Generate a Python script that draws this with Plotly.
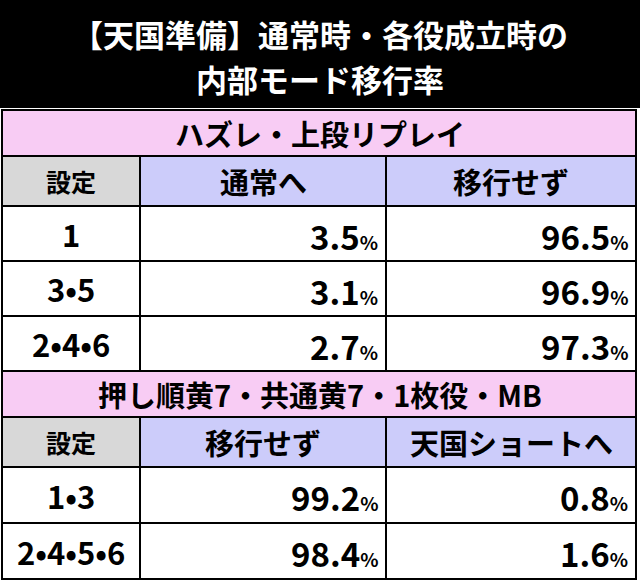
import plotly.graph_objects as go

title_lines = ["【天国準備】通常時・各役成立時の", "内部モード移行率"]

sec1_title = "ハズレ・上段リプレイ"
sec1_cols = ["設定", "通常へ", "移行せず"]
sec1_settings = ["1", "3•5", "2•4•6"]
sec1_normal = [3.5, 3.1, 2.7]
sec1_stay = [96.5, 96.9, 97.3]

sec2_title = "押し順黄7・共通黄7・1枚役・MB"
sec2_cols = ["設定", "移行せず", "天国ショートへ"]
sec2_settings = ["1•3", "2•4•5•6"]
sec2_stay = [99.2, 98.4]
sec2_short = [0.8, 1.6]

W, H = 640, 584
FONT = "Noto Sans CJK JP"
PINK = "#f8ccf4"
LAV = "#ccccfa"
GRAY = "#d8d8d8"
col_x = [2, 140, 386, 636]

fig = go.Figure()
shapes = []
annots = []


def rect(x0, y0, x1, y1, fill):
    shapes.append(dict(type="rect", x0=x0, x1=x1, y0=y0, y1=y1, fillcolor=fill,
                       line=dict(color="black", width=2), layer="below"))


def text(x, y, s, size=30, anchor="center", color="black"):
    annots.append(dict(x=x, y=y, text=s, showarrow=False, xanchor=anchor, yanchor="middle",
                       font=dict(family=FONT, size=size, color=color)))


def pct(v):
    return f"<b>{v:.1f}</b><span style='font-size:19px'><b>%</b></span>"


# title
shapes.append(dict(type="rect", x0=0, x1=W, y0=0, y1=108, fillcolor="black", line_width=0, layer="below"))
text(W / 2, 33, "<b>" + title_lines[0] + "</b>", 31, color="white")
text(W / 2, 78, "<b>" + title_lines[1] + "</b>", 31, color="white")


def section(y, title, cols, settings, a, b, row_h):
    rect(col_x[0], y, col_x[3], y + 46, PINK)
    text(W / 2, y + 23, "<b>" + title + "</b>", 29)
    y += 46
    for i, c in enumerate(cols):
        rect(col_x[i], y, col_x[i + 1], y + 50, GRAY if i == 0 else LAV)
        text((col_x[i] + col_x[i + 1]) / 2, y + 25, "<b>" + c + "</b>", 29 if i else 25)
    y += 50
    for s, va, vb in zip(settings, a, b):
        for i in range(3):
            rect(col_x[i], y, col_x[i + 1], y + row_h, "white")
        text((col_x[0] + col_x[1]) / 2, y + row_h / 2, "<b>" + s + "</b>", 31)
        text(col_x[2] - 6, y + row_h / 2 + 2, pct(va), 33, anchor="right")
        text(col_x[3] - 6, y + row_h / 2 + 2, pct(vb), 33, anchor="right")
        y += row_h
    return y


y = section(110, sec1_title, sec1_cols, sec1_settings, sec1_normal, sec1_stay, 55)
section(y, sec2_title, sec2_cols, sec2_settings, sec2_stay, sec2_short, 56)

fig.update_layout(
    width=W, height=H, margin=dict(l=0, r=0, t=0, b=0),
    plot_bgcolor="white", paper_bgcolor="white",
    xaxis=dict(range=[0, W], visible=False, fixedrange=True),
    yaxis=dict(range=[H, 0], visible=False, fixedrange=True),
    shapes=shapes, annotations=annots, showlegend=False,
)
fig.write_html("out.html", config={"displayModeBar": False},
               post_script="document.body.style.margin='0';document.body.style.overflow='hidden';")
